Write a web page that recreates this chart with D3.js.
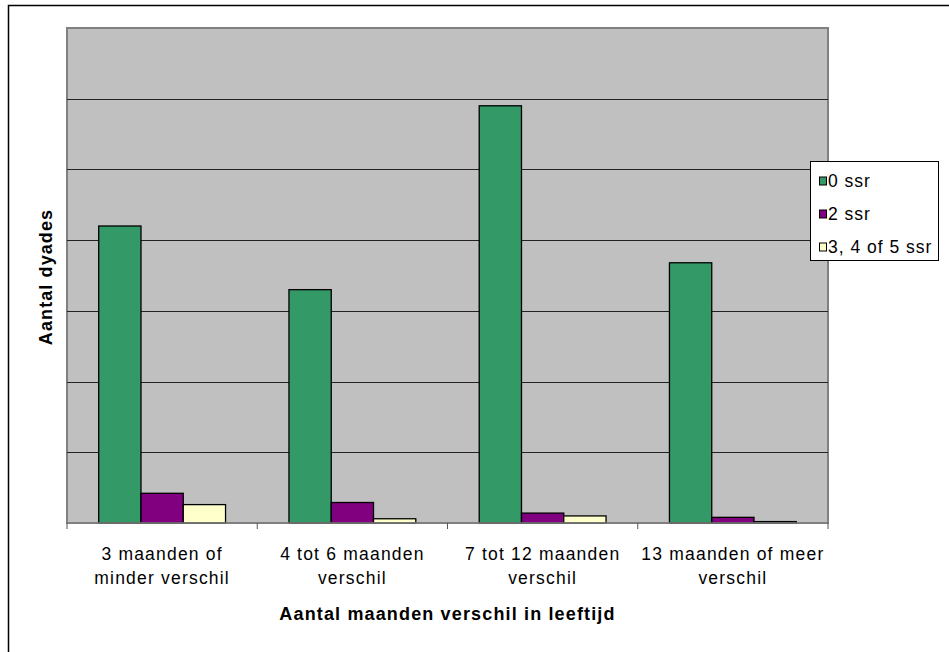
<!DOCTYPE html>
<html><head><meta charset="utf-8">
<script src="https://cdn.jsdelivr.net/npm/d3@7"></script>
<style>body{margin:0;background:#fff}svg{display:block}</style>
</head><body>
<script>
const categories = [["3 maanden of","minder verschil"],["4 tot 6 maanden","verschil"],["7 tot 12 maanden","verschil"],["13 maanden of meer","verschil"]];
const seriesNames = ["0 ssr","2 ssr","3, 4 of 5 ssr"];
const s0 = [4.2, 3.3, 5.9, 3.68];
const s1 = [0.42, 0.29, 0.14, 0.08];
const s2 = [0.26, 0.06, 0.1, 0.02];
const yTicks = [0,1,2,3,4,5,6,7];
const colors = ["#339966","#800080","#FFFFCC"];

const W=949,H=652;
const FONT="Liberation Sans, Arial, sans-serif";
const svg=d3.select("body").append("svg").attr("width",W).attr("height",H);
svg.append("rect").attr("x",0).attr("y",0).attr("width",W).attr("height",H).attr("fill","#fff");
svg.append("path").attr("d","M8.5,652V5.5H949").attr("fill","none").attr("stroke","#000").attr("stroke-width",1.5);

const L=67,R=828,T=28,B=523;
const x=d3.scaleBand().domain(d3.range(categories.length)).range([L,R]).paddingInner(0).paddingOuter(0);
const y=d3.scaleLinear().domain([0,7]).range([B,T]);
const data=[s0,s1,s2];
const barW=x.bandwidth()/4.5;
const xs=d3.scaleBand().domain([0,1,2]).range([0,barW*3]);

svg.append("rect").attr("x",L).attr("y",T).attr("width",R-L).attr("height",B-T).attr("fill","#C0C0C0").attr("stroke","#808080").attr("stroke-width",2);
svg.append("g").selectAll("line").data(yTicks.slice(1,-1)).join("line")
  .attr("x1",L).attr("x2",R).attr("y1",d=>Math.round(y(d))+0.5).attr("y2",d=>Math.round(y(d))+0.5).attr("stroke","#222").attr("stroke-width",1);

const g=svg.append("g");
data.forEach((vals,si)=>{
  g.selectAll(".b"+si).data(vals).join("rect")
   .attr("x",(d,i)=>x(i)+barW*0.75+xs(si))
   .attr("y",d=>y(d))
   .attr("width",xs.bandwidth())
   .attr("height",d=>B-y(d))
   .attr("fill",colors[si]).attr("stroke","#000").attr("stroke-width",1.3);
});

const xAxis=svg.append("g").attr("transform",`translate(0,${B})`);
xAxis.append("line").attr("x1",L).attr("x2",R).attr("stroke","#808080").attr("stroke-width",1.5);
xAxis.selectAll(".t").data(d3.range(categories.length+1)).join("line")
  .attr("x1",i=>i<categories.length?x(i):R).attr("x2",i=>i<categories.length?x(i):R)
  .attr("y1",0).attr("y2",6).attr("stroke","#555");
categories.forEach((c,i)=>{
  const t=svg.append("text").attr("x",x(i)+x.bandwidth()/2).attr("text-anchor","middle")
    .attr("font-family",FONT).attr("font-size",17.5).attr("letter-spacing",1.2).attr("fill","#000");
  c.forEach((ln,k)=>t.append("tspan").attr("x",x(i)+x.bandwidth()/2).attr("y",560+k*24).text(ln));
});
svg.append("text").attr("x",(L+R)/2).attr("y",620).attr("text-anchor","middle")
  .attr("font-family",FONT).attr("font-size",18).attr("font-weight","bold").attr("letter-spacing",1.15).text("Aantal maanden verschil in leeftijd");
svg.append("text").attr("transform","translate(52,277) rotate(-90)").attr("text-anchor","middle")
  .attr("font-family",FONT).attr("font-size",18).attr("font-weight","bold").attr("letter-spacing",1.1).text("Aantal dyades");

const lg=svg.append("g");
lg.append("rect").attr("x",810.5).attr("y",161.5).attr("width",128).attr("height",99).attr("fill","#fff").attr("stroke","#000").attr("stroke-width",1);
seriesNames.forEach((n,i)=>{
  const cy=181+i*33;
  lg.append("rect").attr("x",819.5).attr("y",cy-4).attr("width",7).attr("height",8).attr("fill",colors[i]).attr("stroke","#000").attr("stroke-width",1);
  lg.append("text").attr("x",828).attr("y",cy+6).attr("font-family",FONT).attr("font-size",17.5).attr("letter-spacing",1).text(n);
});
</script>
</body></html>
